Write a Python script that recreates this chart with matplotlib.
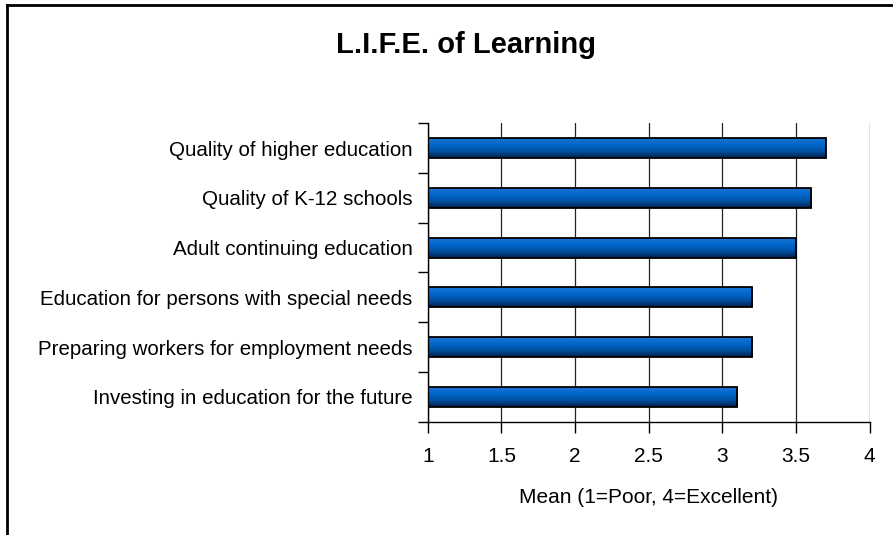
import matplotlib
matplotlib.use("Agg")
import matplotlib.pyplot as plt
import numpy as np
from matplotlib.colors import LinearSegmentedColormap
from matplotlib.lines import Line2D

categories = [
    "Quality of higher education",
    "Quality of K-12 schools",
    "Adult continuing education",
    "Education for persons with special needs",
    "Preparing workers for employment needs",
    "Investing in education for the future",
]
values = [3.7, 3.6, 3.5, 3.2, 3.2, 3.1]
x_ticks = [1, 1.5, 2, 2.5, 3, 3.5, 4]
x_tick_labels = ["1", "1.5", "2", "2.5", "3", "3.5", "4"]

plt.rcParams['font.family'] = ['Liberation Sans', 'DejaVu Sans']

fig = plt.figure(figsize=(8.93, 5.35), dpi=100)
ax = fig.add_axes([0.479, 0.212, 0.495, 0.5575])

n = len(categories)
ypos = np.arange(n)[::-1]
bar_h = 0.40
bars = ax.barh(ypos, np.array(values) - 1, left=1, height=bar_h,
               color='none', edgecolor='black', linewidth=1.3, zorder=3)

cmap = LinearSegmentedColormap.from_list("blu", ["#001f4d", "#0050a0", "#0066cc", "#1a75d1"])
grad = np.linspace(0, 1, 64).reshape(-1, 1)
for b in bars:
    x0, y0 = b.get_x(), b.get_y()
    w, h = b.get_width(), b.get_height()
    im = ax.imshow(grad, cmap=cmap, aspect='auto', origin='lower',
                   extent=[x0, x0 + w, y0, y0 + h], zorder=2, interpolation='bilinear')
    im.set_clip_path(b)

ax.set_xlim(1, 4)
ax.set_ylim(-0.5, n - 0.5)
ax.set_xticks(x_ticks)
ax.set_xticklabels(x_tick_labels, fontsize=15)
ax.set_yticks(ypos)
ax.set_yticklabels(categories, fontsize=14.8)
ax.set_yticks(np.arange(n + 1) - 0.5, minor=True)
ax.tick_params(axis='y', which='major', length=0, pad=11)
ax.tick_params(axis='y', which='minor', length=7, width=1, direction='out')
ax.tick_params(axis='x', which='major', length=8, width=1, direction='out', pad=10)
ax.xaxis.grid(True, color='#222222', linewidth=0.9, zorder=1)
ax.set_axisbelow(True)
for s in ['top', 'right']:
    ax.spines[s].set_visible(False)
ax.spines['left'].set_linewidth(1)
ax.spines['bottom'].set_linewidth(1)
ax.set_xlabel("Mean (1=Poor, 4=Excellent)", fontsize=15, labelpad=16)

fig.text(0.522, 0.915, "L.I.F.E. of Learning", ha='center', va='center',
         fontsize=21, fontweight='bold')

# outer frame (top and left only)
fig.add_artist(Line2D([0.008, 1.0], [0.990, 0.990], color='black', linewidth=2, transform=fig.transFigure))
fig.add_artist(Line2D([0.008, 0.008], [0.0, 0.990], color='black', linewidth=2, transform=fig.transFigure))

fig.savefig("out.png", dpi=100)
